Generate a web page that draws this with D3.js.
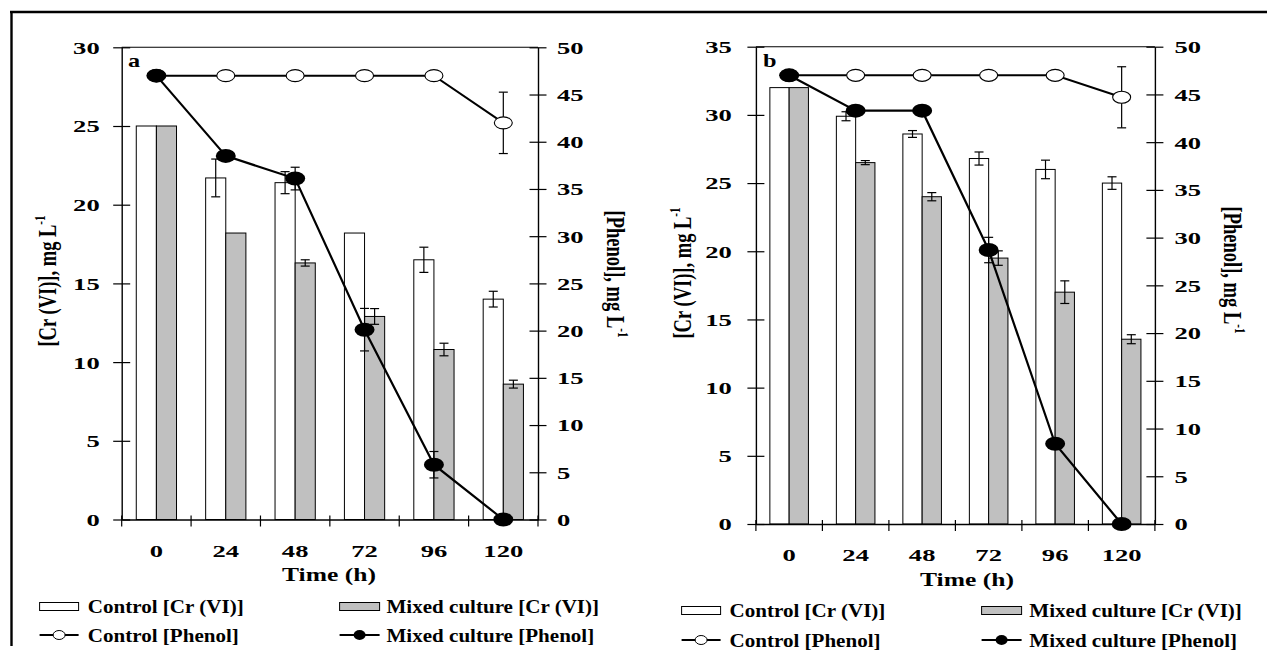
<!DOCTYPE html>
<html>
<head>
<meta charset="utf-8">
<script src="https://cdn.jsdelivr.net/npm/d3@7"></script>
<style>
  html, body { margin: 0; padding: 0; background: #fff; }
  svg { display: block; }
  text { font-family: "Liberation Serif", "Times New Roman", serif; font-weight: bold; fill: #000; }
</style>
</head>
<body>
<svg id="chart" width="1267" height="657"></svg>
<script>
// ---------------- DATA ----------------
const categories = ["0", "24", "48", "72", "96", "120"];

// Panel a
const aCtrlCr     = [25, 21.7, 21.4, 18.2, 16.5, 14.0];
const aCtrlCrErr  = [0, 1.2, 0.7, 0, 0.8, 0.5];
const aMixCr      = [25, 18.2, 16.3, 12.9, 10.8, 8.6];
const aMixCrErr   = [0, 0, 0.2, 0.5, 0.4, 0.25];
const aCtrlPh     = [47, 47, 47, 47, 47, 42.0];
const aCtrlPhErr  = [0, 0, 0, 0, 0, 3.25];
const aMixPh      = [47, 38.5, 36.1, 20.1, 5.8, 0];
const aMixPhErr   = [0, 0, 1.2, 2.25, 1.4, 0];

// Panel b
const bCtrlCr     = [32, 29.9, 28.6, 26.8, 26.0, 25.0];
const bCtrlCrErr  = [0, 0.33, 0.25, 0.48, 0.68, 0.46];
const bMixCr      = [32, 26.5, 24.0, 19.5, 17.0, 13.55];
const bMixCrErr   = [0, 0.15, 0.3, 0.53, 0.83, 0.33];
const bCtrlPh     = [47, 47, 47, 47, 47, 44.7];
const bCtrlPhErr  = [0, 0, 0, 0, 0, 3.2];
const bMixPh      = [47, 43.3, 43.3, 28.7, 8.4, 0];
const bMixPhErr   = [0, 0, 0, 1.33, 0, 0];

// Tick labels
const aCrTicks = [0, 5, 10, 15, 20, 25, 30];
const bCrTicks = [0, 5, 10, 15, 20, 25, 30, 35];
const phTicks  = [0, 5, 10, 15, 20, 25, 30, 35, 40, 45, 50];

const legendLabels = ["Control [Cr (VI)]", "Mixed culture [Cr (VI)]", "Control [Phenol]", "Mixed culture [Phenol]"];
const xTitle = "Time (h)";

// ---------------- DRAW ----------------
const svg = d3.select("#chart");
svg.append("rect").attr("width", 1267).attr("height", 657).attr("fill", "#fff");

// outer frame (top + left)
svg.append("line").attr("x1", 10).attr("x2", 1267).attr("y1", 12).attr("y2", 12)
  .attr("stroke", "#000").attr("stroke-width", 2.4);
svg.append("line").attr("x1", 11.5).attr("x2", 11.5).attr("y1", 11).attr("y2", 646)
  .attr("stroke", "#000").attr("stroke-width", 2.4);

const GRAY = "#c0c0c0";
const TICK_SX = 1.52;

function errBar(g, cx, y, v, e) {
  if (!e) return;
  const y1 = y(v - e), y2 = y(v + e);
  g.append("line").attr("x1", cx).attr("x2", cx).attr("y1", y1).attr("y2", y2)
    .attr("stroke", "#000").attr("stroke-width", 1.2);
  [y1, y2].forEach(yy => g.append("line").attr("x1", cx - 4.5).attr("x2", cx + 4.5)
    .attr("y1", yy).attr("y2", yy).attr("stroke", "#000").attr("stroke-width", 1.2));
}

function panel(p) {
  const g = svg.append("g");
  const x = d3.scaleBand().domain(categories).range([p.left, p.right]);
  const yL = d3.scaleLinear().domain([0, p.crMax]).range([p.bottom, p.top]);
  const yR = d3.scaleLinear().domain([0, 50]).range([p.bottom, p.top]);
  const bw = x.bandwidth() * 0.29;
  const cx = c => x(c) + x.bandwidth() / 2;

  // bars
  g.selectAll(".ctrlBar").data(categories).join("rect")
    .attr("x", c => cx(c) - bw).attr("y", (c, i) => yL(p.ctrlCr[i]))
    .attr("width", bw).attr("height", (c, i) => yL(0) - yL(p.ctrlCr[i]))
    .attr("fill", "#fff").attr("stroke", "#000").attr("stroke-width", 1);
  g.selectAll(".mixBar").data(categories).join("rect")
    .attr("x", c => cx(c)).attr("y", (c, i) => yL(p.mixCr[i]))
    .attr("width", bw).attr("height", (c, i) => yL(0) - yL(p.mixCr[i]))
    .attr("fill", GRAY).attr("stroke", "#000").attr("stroke-width", 1);

  categories.forEach((c, i) => {
    errBar(g, cx(c) - bw / 2, yL, p.ctrlCr[i], p.ctrlCrErr[i]);
    errBar(g, cx(c) + bw / 2, yL, p.mixCr[i], p.mixCrErr[i]);
  });

  // top frame line
  g.append("line").attr("x1", p.left).attr("x2", p.right).attr("y1", p.top).attr("y2", p.top)
    .attr("stroke", "#000").attr("stroke-width", 1.1);

  const fontAttrs = sel => sel.attr("font-family", "Liberation Serif").attr("font-weight", "bold")
    .attr("font-size", 17.5);

  // left axis
  const gL = g.append("g").attr("transform", `translate(${p.left},0)`)
    .call(d3.axisLeft(yL).tickValues(p.crTicks).tickSize(8).tickSizeOuter(0).tickFormat(d3.format("d")));
  fontAttrs(gL);
  gL.select(".domain").attr("stroke-width", 1.4);
  gL.selectAll(".tick line").attr("x1", 8.5).attr("x2", -8.5).attr("stroke-width", 1.2);
  gL.selectAll(".tick text").attr("x", 0).attr("dy", null).attr("text-anchor", "end")
    .attr("transform", `translate(${-p.lLab},5.9) scale(${TICK_SX},1)`);

  // right axis
  const gR = g.append("g").attr("transform", `translate(${p.right},0)`)
    .call(d3.axisRight(yR).tickValues(phTicks).tickSize(8).tickSizeOuter(0).tickFormat(d3.format("d")));
  fontAttrs(gR);
  gR.select(".domain").attr("stroke-width", 1.4);
  gR.selectAll(".tick line").attr("x1", -8.5).attr("x2", 8.5).attr("stroke-width", 1.2);
  gR.selectAll(".tick text").attr("x", 0).attr("dy", null).attr("text-anchor", "start")
    .attr("transform", `translate(${p.rLab},5.9) scale(${TICK_SX},1)`);

  // bottom axis
  const gB = g.append("g").attr("transform", `translate(0,${p.bottom})`)
    .call(d3.axisBottom(x).tickSize(0).tickSizeOuter(0));
  fontAttrs(gB);
  gB.select(".domain").attr("stroke-width", 1.4);
  gB.selectAll(".tick text").attr("y", 0).attr("dy", null).attr("text-anchor", "middle")
    .attr("transform", `translate(0,37.3) scale(${TICK_SX},1)`);
  const bounds = categories.map(c => x(c)).concat([p.right]);
  g.selectAll(".bt").data(bounds).join("line")
    .attr("x1", d => d).attr("x2", d => d).attr("y1", p.bottom - 4).attr("y2", p.bottom + 7)
    .attr("stroke", "#000").attr("stroke-width", 1.2);

  // phenol error bars
  categories.forEach((c, i) => {
    errBar(g, cx(c), yR, p.ctrlPh[i], p.ctrlPhErr[i]);
    errBar(g, cx(c), yR, p.mixPh[i], p.mixPhErr[i]);
  });

  const line = vals => d3.line().x((d, i) => cx(categories[i])).y(d => yR(d))(vals);
  g.append("path").attr("d", line(p.ctrlPh)).attr("fill", "none").attr("stroke", "#000").attr("stroke-width", 2);
  g.selectAll(".cm").data(p.ctrlPh).join("ellipse")
    .attr("cx", (d, i) => cx(categories[i])).attr("cy", d => yR(d))
    .attr("rx", 9).attr("ry", 6).attr("fill", "#fff").attr("stroke", "#000").attr("stroke-width", 1.1);
  g.append("path").attr("d", line(p.mixPh)).attr("fill", "none").attr("stroke", "#000").attr("stroke-width", 2.2);
  g.selectAll(".mm").data(p.mixPh).join("ellipse")
    .attr("cx", (d, i) => cx(categories[i])).attr("cy", d => yR(d))
    .attr("rx", 10).attr("ry", 7).attr("fill", "#000");

  // panel letter
  g.append("text").attr("transform", `translate(${p.letterX},${p.letterY}) scale(1.35,1)`)
    .attr("font-size", 18).text(p.letter);

  // x title
  g.append("text").attr("transform", `translate(${p.timeX},${p.timeY}) scale(1.42,1)`)
    .attr("text-anchor", "middle").attr("font-size", 18).text(xTitle);

  // left title
  const tl = g.append("text").attr("transform", `translate(${p.ltX},${p.ltY}) scale(1.4,1) rotate(-90)`)
    .attr("text-anchor", "middle").attr("font-size", 18.5);
  tl.append("tspan").text("[Cr (VI)], mg L");
  tl.append("tspan").attr("font-size", 11).attr("dy", -8).text("-1");

  // right title
  const tr = g.append("text").attr("transform", `translate(${p.rtX},${p.rtY}) scale(1.4,1) rotate(90)`)
    .attr("text-anchor", "middle").attr("font-size", 18.5);
  tr.append("tspan").text("[Phenol], mg L");
  tr.append("tspan").attr("font-size", 11).attr("dy", -8).text("-1");

  // legend
  const L = p.leg;
  const lg = g.append("g");
  lg.append("rect").attr("x", L.x1).attr("y", L.r1 - 4).attr("width", 39).attr("height", 8)
    .attr("fill", "#fff").attr("stroke", "#000").attr("stroke-width", 1);
  lg.append("rect").attr("x", L.x2).attr("y", L.r1 - 4).attr("width", 40).attr("height", 8)
    .attr("fill", GRAY).attr("stroke", "#000").attr("stroke-width", 1);
  lg.append("line").attr("x1", L.x1).attr("x2", L.x1 + 39).attr("y1", L.r2).attr("y2", L.r2)
    .attr("stroke", "#000").attr("stroke-width", 1.8);
  lg.append("ellipse").attr("cx", L.x1 + 19.5).attr("cy", L.r2).attr("rx", 6).attr("ry", 4.5)
    .attr("fill", "#fff").attr("stroke", "#000").attr("stroke-width", 1);
  lg.append("line").attr("x1", L.x2).attr("x2", L.x2 + 40).attr("y1", L.r2).attr("y2", L.r2)
    .attr("stroke", "#000").attr("stroke-width", 1.8);
  lg.append("ellipse").attr("cx", L.x2 + 20).attr("cy", L.r2).attr("rx", 6).attr("ry", 5)
    .attr("fill", "#000");
  const lt = [[L.t1, L.r1], [L.t2, L.r1], [L.t1, L.r2], [L.t2, L.r2]];
  legendLabels.forEach((s, i) => {
    lg.append("text").attr("transform", `translate(${lt[i][0]},${lt[i][1] + 6.5}) scale(1.17,1)`)
      .attr("font-size", 18).text(s);
  });
}

panel({
  left: 121.7, right: 538, top: 47.3, bottom: 519.5, crMax: 30, crTicks: aCrTicks,
  ctrlCr: aCtrlCr, ctrlCrErr: aCtrlCrErr, mixCr: aMixCr, mixCrErr: aMixCrErr,
  ctrlPh: aCtrlPh, ctrlPhErr: aCtrlPhErr, mixPh: aMixPh, mixPhErr: aMixPhErr,
  lLab: 22, rLab: 19, letter: "a", letterX: 128, letterY: 67,
  timeX: 329, timeY: 581, ltX: 56, ltY: 281, rtX: 607, rtY: 274,
  leg: { x1: 39.6, x2: 339.6, t1: 87.8, t2: 386.5, r1: 606.5, r2: 635 }
});

panel({
  left: 755.9, right: 1154.9, top: 46.7, bottom: 524, crMax: 35, crTicks: bCrTicks,
  ctrlCr: bCtrlCr, ctrlCrErr: bCtrlCrErr, mixCr: bMixCr, mixCrErr: bMixCrErr,
  ctrlPh: bCtrlPh, ctrlPhErr: bCtrlPhErr, mixPh: bMixPh, mixPhErr: bMixPhErr,
  lLab: 24, rLab: 19.5, letter: "b", letterX: 763, letterY: 66.7,
  timeX: 967, timeY: 585.5, ltX: 691, ltY: 273, rtX: 1224, rtY: 270,
  leg: { x1: 681.6, x2: 981.6, t1: 729.5, t2: 1029.3, r1: 610.5, r2: 640 }
});
</script>
</body>
</html>
